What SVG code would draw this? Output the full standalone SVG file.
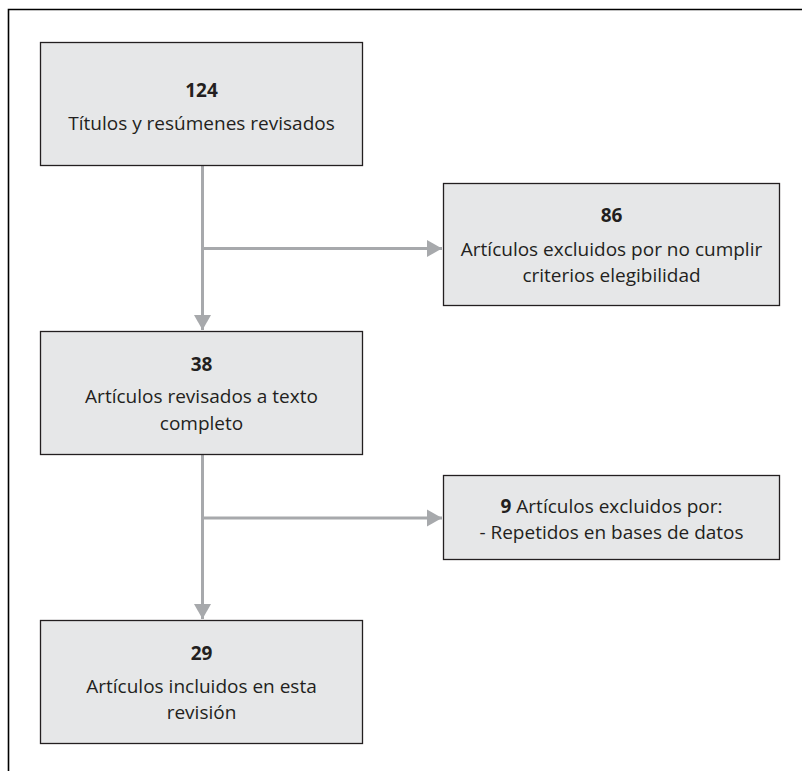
<svg xmlns="http://www.w3.org/2000/svg" width="802" height="771" viewBox="0 0 802 771">
<style>
.box{fill:#e6e7e8;stroke:#231f20;stroke-width:1.3}
.t{font-family:"Open Sans","Noto Sans",sans-serif;font-size:19px;fill:#231f20;text-anchor:middle}
.b{font-weight:bold}
.c{stroke:#a7a9ac;stroke-width:3;fill:none}
</style>
<defs>
<marker id="ah" markerUnits="userSpaceOnUse" markerWidth="16" markerHeight="18" refX="15" refY="9" orient="auto" viewBox="0 0 16 18">
<path d="M0,0.5 L15,9 L0,17.5 Z" fill="#a7a9ac"/>
</marker>
</defs>
<rect width="802" height="771" fill="#fff"/>
<path d="M8.5,771 V9.5 H802" fill="none" stroke="#000" stroke-width="1.6"/>
<g id="connectors">
<path class="c" d="M202.5,166 V330" marker-end="url(#ah)"/>
<path class="c" d="M202.5,248.5 H442" marker-end="url(#ah)"/>
<path class="c" d="M202.5,455 V619" marker-end="url(#ah)"/>
<path class="c" d="M202.5,518 H442" marker-end="url(#ah)"/>
</g>
<g id="n124">
<rect class="box" x="40.5" y="42.5" width="322" height="123"/>
<text class="t b" x="201.5" y="97">124</text>
<text class="t" x="201.5" y="130">Títulos y resúmenes revisados</text>
</g>
<g id="n86">
<rect class="box" x="443.5" y="183.5" width="336" height="122"/>
<text class="t b" x="611.5" y="222">86</text>
<text class="t" x="611.5" y="256">Artículos excluidos por no cumplir</text>
<text class="t" x="611.5" y="282">criterios elegibilidad</text>
</g>
<g id="n38">
<rect class="box" x="40.5" y="331.5" width="322" height="123"/>
<text class="t b" x="201.5" y="371">38</text>
<text class="t" x="201.5" y="403">Artículos revisados a texto</text>
<text class="t" x="201.5" y="430">completo</text>
</g>
<g id="n9">
<rect class="box" x="443.5" y="475.5" width="336" height="84"/>
<text class="t" x="611.5" y="513"><tspan class="b">9</tspan> Artículos excluidos por:</text>
<text class="t" x="611.5" y="539">- Repetidos en bases de datos</text>
</g>
<g id="n29">
<rect class="box" x="40.5" y="620.5" width="322" height="123"/>
<text class="t b" x="201.5" y="660">29</text>
<text class="t" x="201.5" y="693">Artículos incluidos en esta</text>
<text class="t" x="201.5" y="719">revisión</text>
</g>
</svg>
